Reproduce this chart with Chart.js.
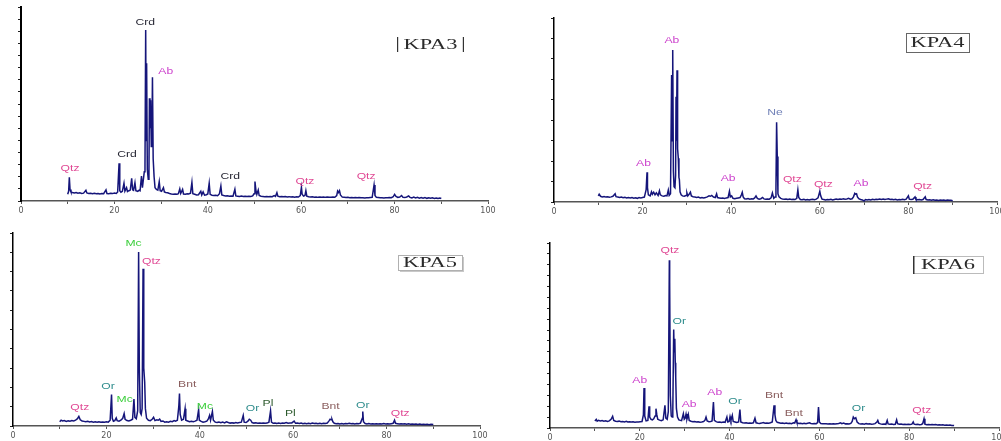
<!DOCTYPE html>
<html><head><meta charset="utf-8">
<script src="https://cdn.jsdelivr.net/npm/chart.js@4.4.0/dist/chart.umd.min.js"></script>
<style>
html,body{margin:0;padding:0;background:#fff;overflow:hidden;width:1001px;height:441px;position:relative;}
canvas{position:absolute;}
</style></head><body>
<script>
// ---------- DATA (2θ in degrees, intensity in counts) ----------
const xTickLabels = [0, 20, 40, 60, 80, 100];

const kpa3Data = [[10.0,55],[10.2,80],[10.35,195],[10.5,95],[10.7,75],[11.0,70],[11.4,66],[11.8,70],[12.2,64],[12.6,67],[13.0,62],[13.4,65],[13.9,88],[14.1,66],[14.5,62],[14.9,64],[15.3,60],[15.7,63],[16.1,59],[16.5,62],[16.9,58],[17.3,61],[17.7,60],[18.2,92],[18.4,62],[18.8,60],[19.2,64],[19.6,61],[20.0,65],[20.4,62],[20.7,75],[21.0,311],[21.15,85],[21.4,72],[21.7,80],[22.05,146],[22.25,82],[22.6,110],[22.8,78],[23.1,85],[23.4,90],[23.7,187],[23.9,92],[24.1,88],[24.4,150],[24.6,85],[25.0,80],[25.3,90],[25.5,85],[25.8,206],[26.0,110],[26.4,242],[26.55,300],[26.7,1411],[26.8,500],[26.9,1136],[27.05,260],[27.25,180],[27.4,250],[27.5,847],[27.62,600],[27.75,830],[27.9,450],[28.05,600],[28.15,1020],[28.3,350],[28.5,200],[28.7,110],[29.0,95],[29.3,90],[29.6,160],[29.8,85],[30.1,80],[30.5,110],[30.7,75],[31.0,70],[31.4,68],[31.8,62],[32.2,58],[32.6,55],[33.0,57],[33.4,55],[33.7,60],[34.0,100],[34.2,62],[34.6,95],[34.8,58],[35.2,56],[35.6,60],[35.9,58],[36.3,65],[36.6,154],[36.8,60],[37.2,55],[37.6,50],[38.0,52],[38.5,80],[38.7,50],[39.0,75],[39.3,48],[39.7,52],[40.0,58],[40.3,146],[40.5,55],[40.9,48],[41.3,45],[41.7,47],[42.1,44],[42.5,60],[42.8,124],[43.0,50],[43.4,45],[43.8,42],[44.2,44],[44.6,40],[45.0,42],[45.4,40],[45.8,97],[46.0,42],[46.4,40],[46.8,38],[47.2,41],[47.6,38],[48.0,40],[48.4,38],[48.8,40],[49.2,37],[49.6,42],[49.9,60],[50.1,160],[50.3,90],[50.5,55],[50.8,90],[51.0,45],[51.4,40],[51.8,38],[52.2,36],[52.6,38],[53.0,35],[53.4,37],[53.8,36],[54.2,45],[54.5,38],[54.8,68],[55.0,40],[55.4,36],[55.8,38],[56.2,35],[56.6,37],[57.0,34],[57.4,36],[57.8,33],[58.2,35],[58.6,32],[59.0,34],[59.4,33],[59.8,45],[60.05,113],[60.2,55],[60.5,40],[60.8,45],[61.0,85],[61.2,40],[61.6,35],[62.0,33],[62.4,34],[62.8,31],[63.2,33],[63.6,30],[64.0,32],[64.4,31],[64.8,33],[65.2,30],[65.6,32],[66.0,30],[66.4,31],[66.8,33],[67.2,31],[67.6,45],[67.8,82],[68.0,70],[68.2,85],[68.4,50],[68.8,32],[69.2,30],[69.6,28],[70.0,30],[70.4,27],[70.8,29],[71.2,27],[71.6,28],[72.0,26],[72.4,28],[72.8,26],[73.2,27],[73.6,25],[74.0,27],[74.4,26],[74.8,28],[75.2,30],[75.6,132],[75.8,45],[76.1,30],[76.5,28],[76.9,26],[77.3,27],[77.7,25],[78.1,27],[78.5,26],[78.9,28],[79.3,27],[79.7,35],[80.0,55],[80.3,38],[80.7,30],[81.1,32],[81.5,45],[81.8,30],[82.2,28],[82.6,33],[83.0,42],[83.3,30],[83.7,26],[84.1,32],[84.5,25],[84.9,30],[85.3,24],[85.7,29],[86.1,23],[86.5,28],[86.9,22],[87.3,27],[87.7,22],[88.1,26],[88.5,21],[88.9,25],[89.3,20],[89.7,24],[90.0,20]];
const kpa3Peaks = [['Qtz',10.5,264],['Crd',22.7,380],['Crd',26.6,1469],['Ab',31.0,1064],['Crd',44.8,206],['Qtz',60.8,157],['Qtz',73.9,206]];

const kpa4Data = [[10.0,30],[10.2,38],[10.5,28],[10.9,25],[11.3,27],[11.7,24],[12.1,26],[12.5,23],[12.9,25],[13.3,28],[13.8,40],[14.0,26],[14.4,24],[14.8,22],[15.2,24],[15.6,21],[16.0,23],[16.4,20],[16.8,22],[17.2,20],[17.6,22],[18.0,19],[18.4,21],[18.8,18],[19.2,22],[19.6,20],[20.0,22],[20.4,24],[20.8,60],[21.0,145],[21.1,70],[21.3,35],[21.7,30],[22.0,50],[22.2,38],[22.5,48],[22.8,35],[23.1,45],[23.5,32],[23.8,55],[24.0,35],[24.4,30],[24.8,28],[25.2,32],[25.5,30],[25.8,58],[26.0,32],[26.3,40],[26.55,621],[26.68,300],[26.8,743],[26.95,150],[27.1,75],[27.3,70],[27.45,130],[27.55,515],[27.65,300],[27.77,645],[27.9,260],[28.06,214],[28.2,120],[28.3,110],[28.45,50],[28.7,35],[29.0,30],[29.4,28],[29.8,32],[30.0,45],[30.2,30],[30.5,38],[30.8,48],[31.0,30],[31.4,26],[31.8,24],[32.2,22],[32.6,24],[33.0,20],[33.4,22],[33.8,20],[34.2,22],[34.6,25],[35.0,30],[35.3,28],[35.6,32],[36.0,24],[36.4,22],[36.7,40],[36.9,22],[37.3,20],[37.7,18],[38.1,19],[38.5,17],[38.9,20],[39.3,22],[39.6,52],[39.8,25],[40.1,30],[40.4,18],[40.8,16],[41.2,18],[41.6,20],[42.0,22],[42.3,35],[42.5,47],[42.7,25],[43.0,16],[43.4,15],[43.8,17],[44.2,14],[44.6,16],[45.0,15],[45.3,20],[45.6,30],[45.9,18],[46.3,14],[46.7,16],[47.1,22],[47.4,15],[47.8,13],[48.2,15],[48.6,14],[49.0,20],[49.3,44],[49.6,18],[49.9,25],[50.1,60],[50.25,390],[50.4,223],[50.55,40],[50.8,25],[51.2,18],[51.6,14],[52.0,13],[52.4,15],[52.8,12],[53.2,14],[53.6,12],[54.0,13],[54.4,12],[54.8,18],[55.05,59],[55.25,22],[55.6,12],[56.0,11],[56.4,13],[56.8,10],[57.2,12],[57.6,10],[58.0,12],[58.4,13],[58.8,11],[59.2,14],[59.6,20],[60.0,52],[60.2,30],[60.5,14],[60.9,12],[61.3,10],[61.7,12],[62.1,11],[62.5,13],[62.9,10],[63.3,12],[63.7,14],[64.1,12],[64.5,15],[64.9,13],[65.3,16],[65.7,14],[66.1,15],[66.5,18],[66.9,14],[67.3,16],[67.6,25],[67.9,42],[68.1,38],[68.3,40],[68.5,25],[68.8,16],[69.2,12],[69.6,10],[70.0,5],[70.3,12],[70.7,10],[71.1,12],[71.5,10],[71.9,13],[72.3,11],[72.7,13],[73.1,12],[73.5,14],[73.9,12],[74.3,15],[74.7,12],[75.1,14],[75.5,16],[75.9,12],[76.3,13],[76.7,11],[77.1,13],[77.5,10],[77.9,12],[78.3,11],[78.7,13],[79.1,11],[79.5,14],[80.0,30],[80.2,14],[80.6,12],[81.0,13],[81.5,25],[81.7,13],[82.1,11],[82.5,12],[82.9,10],[83.3,12],[83.8,25],[84.0,12],[84.4,10],[84.8,11],[85.2,9],[85.6,11],[86.0,9],[86.4,10],[86.8,8],[87.2,10],[87.6,9],[88.0,10],[88.4,8],[88.8,10],[89.2,9],[89.6,8],[90.0,6]];
const kpa4Peaks = [['Ab',26.6,792],['Ab',20.2,186],['Ab',39.3,116],['Ne',49.9,439],['Qtz',53.8,111],['Qtz',60.8,86],['Ab',69.3,91],['Qtz',83.2,75]];

const kpa5Data = [[10.0,22],[10.3,30],[10.6,26],[11.0,28],[11.4,24],[11.8,27],[12.2,25],[12.6,28],[13.0,26],[13.4,30],[13.8,38],[14.1,50],[14.4,32],[14.8,26],[15.2,24],[15.6,22],[16.0,24],[16.4,21],[16.8,23],[17.2,20],[17.6,22],[18.0,20],[18.4,22],[18.8,19],[19.2,21],[19.6,20],[20.0,22],[20.4,20],[20.8,30],[21.1,163],[21.25,40],[21.5,25],[21.8,28],[22.1,42],[22.3,28],[22.7,25],[23.1,30],[23.5,40],[23.8,64],[24.0,35],[24.4,28],[24.8,26],[25.2,30],[25.6,35],[25.9,140],[26.1,45],[26.4,38],[26.7,80],[26.9,901],[27.05,300],[27.25,70],[27.45,60],[27.65,90],[27.85,815],[27.95,573],[28.05,300],[28.2,228],[28.35,90],[28.6,40],[29.0,30],[29.4,28],[29.8,35],[30.1,45],[30.4,28],[30.8,32],[31.1,30],[31.4,36],[31.7,24],[32.1,26],[32.5,20],[32.9,22],[33.3,20],[33.7,24],[34.1,22],[34.5,28],[34.8,25],[35.2,30],[35.5,100],[35.65,168],[35.8,60],[36.1,30],[36.5,35],[36.85,90],[37.0,30],[37.4,26],[37.8,22],[38.2,24],[38.6,22],[39.0,25],[39.4,30],[39.75,85],[39.9,30],[40.3,24],[40.7,20],[41.1,22],[41.5,25],[41.8,35],[42.1,55],[42.3,30],[42.7,75],[42.9,30],[43.3,20],[43.7,18],[44.1,20],[44.5,17],[44.9,20],[45.3,16],[45.7,22],[46.1,18],[46.5,15],[46.9,17],[47.3,15],[47.7,18],[48.1,16],[48.5,18],[48.9,20],[49.3,55],[49.5,20],[49.9,18],[50.3,25],[50.6,35],[50.9,30],[51.2,18],[51.6,15],[52.0,17],[52.4,14],[52.8,16],[53.2,14],[53.6,16],[54.0,14],[54.4,15],[54.8,20],[55.15,78],[55.35,20],[55.7,14],[56.1,16],[56.5,13],[56.9,15],[57.3,13],[57.7,16],[58.1,14],[58.5,18],[58.9,14],[59.3,15],[59.7,16],[60.2,25],[60.5,14],[60.9,15],[61.3,13],[61.7,15],[62.1,12],[62.5,14],[62.9,12],[63.3,14],[63.7,12],[64.1,15],[64.5,13],[64.9,14],[65.3,12],[65.7,14],[66.1,12],[66.5,14],[66.9,13],[67.3,15],[67.7,28],[67.9,35],[68.1,33],[68.3,35],[68.5,22],[68.8,14],[69.2,12],[69.6,13],[70.0,11],[70.4,13],[70.8,11],[71.2,13],[71.6,12],[72.0,14],[72.4,12],[72.8,13],[73.2,11],[73.6,13],[74.0,12],[74.4,15],[74.8,40],[74.9,75],[75.05,22],[75.4,13],[75.8,11],[76.2,13],[76.6,11],[77.0,12],[77.4,10],[77.8,12],[78.2,10],[78.6,12],[79.0,11],[79.4,13],[79.8,11],[80.2,12],[80.6,10],[81.0,12],[81.4,14],[81.7,30],[81.9,14],[82.3,12],[82.7,10],[83.1,12],[83.5,10],[83.9,11],[84.3,9],[84.7,11],[85.1,9],[85.5,10],[85.9,9],[86.3,10],[86.7,8],[87.1,10],[87.5,8],[87.9,9],[88.3,8],[88.7,9],[89.1,7],[89.5,9],[90.0,8]];
const kpa5Peaks = [['Mc',25.8,948],['Qtz',29.65,853],['Or',20.35,206],['Mc',23.9,137],['Qtz',14.3,98],['Bnt',37.3,214],['Mc',41.1,102],['Or',51.3,93],['Pl',54.6,116],['Pl',59.4,67],['Bnt',68.0,102],['Or',74.9,107],['Qtz',82.9,64]];

const kpa6Data = [[10.0,65],[10.3,80],[10.5,62],[10.8,70],[11.2,64],[11.6,68],[12.0,62],[12.4,66],[12.8,60],[13.2,65],[13.6,80],[13.95,107],[14.2,70],[14.6,62],[15.0,60],[15.4,63],[15.8,58],[16.2,60],[16.6,56],[17.0,62],[17.3,55],[17.7,58],[18.1,55],[18.5,57],[18.9,54],[19.3,56],[19.7,55],[20.1,58],[20.5,60],[20.8,120],[20.94,368],[21.1,110],[21.4,65],[21.8,70],[22.05,199],[22.2,100],[22.5,80],[22.8,75],[23.1,85],[23.4,110],[23.6,178],[23.8,120],[24.0,80],[24.4,72],[24.8,68],[25.2,75],[25.6,208],[25.8,90],[26.1,80],[26.35,150],[26.58,1541],[26.65,1342],[26.8,300],[27.0,110],[27.2,101],[27.35,150],[27.55,904],[27.65,700],[27.8,821],[27.9,600],[28.0,469],[28.15,180],[28.4,100],[28.7,75],[29.0,70],[29.3,68],[29.7,132],[29.9,80],[30.1,90],[30.3,128],[30.5,80],[30.8,125],[31.0,70],[31.4,62],[31.8,58],[32.2,60],[32.6,55],[33.0,58],[33.4,54],[33.8,56],[34.2,60],[34.5,70],[34.75,101],[35.0,65],[35.4,58],[35.8,60],[36.1,65],[36.4,239],[36.6,70],[37.0,58],[37.4,52],[37.8,55],[38.2,50],[38.6,54],[39.0,52],[39.4,101],[39.6,55],[39.9,60],[40.1,105],[40.3,70],[40.6,115],[40.8,60],[41.2,55],[41.6,50],[42.0,55],[42.3,169],[42.5,55],[42.9,48],[43.3,45],[43.7,48],[44.1,44],[44.5,46],[44.9,43],[45.3,48],[45.65,90],[45.9,48],[46.3,44],[46.7,42],[47.1,45],[47.5,50],[47.9,44],[48.3,46],[48.7,43],[49.1,48],[49.5,55],[49.9,209],[50.1,120],[50.3,70],[50.6,52],[51.0,48],[51.4,44],[51.8,46],[52.2,42],[52.6,45],[53.0,41],[53.4,44],[53.8,40],[54.2,48],[54.5,45],[54.8,75],[55.0,48],[55.4,42],[55.8,44],[56.2,40],[56.6,43],[57.0,40],[57.4,44],[57.8,48],[58.1,42],[58.5,40],[58.9,42],[59.3,40],[59.6,50],[59.8,193],[60.0,55],[60.3,42],[60.7,40],[61.1,38],[61.5,40],[61.9,37],[62.3,39],[62.7,36],[63.1,38],[63.5,36],[63.9,39],[64.3,42],[64.7,48],[65.0,40],[65.4,45],[65.8,38],[66.2,40],[66.6,37],[67.0,42],[67.3,60],[67.55,100],[67.8,85],[68.1,95],[68.4,55],[68.8,40],[69.2,36],[69.6,38],[70.0,35],[70.4,40],[70.8,36],[71.2,38],[71.6,35],[72.0,37],[72.4,40],[72.8,55],[73.0,70],[73.2,45],[73.6,38],[74.0,35],[74.4,37],[74.8,34],[75.1,70],[75.3,38],[75.7,34],[76.1,36],[76.5,33],[76.9,35],[77.2,75],[77.4,40],[77.8,34],[78.2,36],[78.6,33],[79.0,35],[79.4,32],[79.8,34],[80.2,32],[80.6,35],[80.9,55],[81.1,35],[81.5,32],[81.9,34],[82.3,31],[82.7,33],[83.0,40],[83.3,85],[83.5,35],[83.9,31],[84.3,33],[84.7,30],[85.1,32],[85.5,29],[85.9,31],[86.3,28],[86.7,30],[87.1,27],[87.5,29],[87.9,26],[88.3,28],[88.7,25],[89.1,27],[89.5,24],[90.0,22]];
const kpa6Peaks = [['Qtz',26.7,1627],['Or',28.8,983],['Ab',20.0,438],['Ab',31.0,218],['Ab',36.7,322],['Or',41.2,245],['Bnt',49.9,294],['Bnt',54.3,132],['Or',68.7,178],['Qtz',82.8,163]];

const sampleNames = ['KPA3', 'KPA4', 'KPA5', 'KPA6'];
const yMaxima = [1600, 900, 1000, 1700];

// ---------- STYLE / LAYOUT ----------
const mineralColors = {Qtz:'#e04894', Ab:'#cc40cc', Crd:'#262633', Ne:'#7282b8', Mc:'#3ccf3c', Or:'#2e8c8c', Pl:'#2d5a2d', Bnt:'#8a5e5e'};
const panels = [
  {data:kpa3Data, peaks:kpa3Peaks, x0:21,  x100:488, top:7,   bottom:201, yBorder:2,   box:{x:397,y:37,w:67,h:15,style:'bars'}},
  {data:kpa4Data, peaks:kpa4Peaks, x0:554, x100:997, top:18,  bottom:202, yBorder:1.5, box:{x:906,y:33,w:63,h:19,style:'rect'}},
  {data:kpa5Data, peaks:kpa5Peaks, x0:13,  x100:480, top:233, bottom:426, yBorder:1.5, box:{x:398,y:255,w:64,h:15,style:'shadow'}},
  {data:kpa6Data, peaks:kpa6Peaks, x0:550, x100:999, top:243, bottom:428, yBorder:1.5, box:{x:913,y:256,w:70,h:17,style:'leftbar'}}
];

function makePlugin(p, name, offL, offT) {
  return {
    id: 'ann' + name,
    afterDraw(chart) {
      const ctx = chart.ctx, xs = chart.scales.x, ys = chart.scales.y;
      ctx.save();
      ctx.font = '9px "Liberation Sans", Arial, sans-serif';
      ctx.textAlign = 'center';
      ctx.textBaseline = 'middle';
      p.peaks.forEach(([t, x, y]) => {
        ctx.fillStyle = mineralColors[t];
        ctx.save();
        ctx.translate(xs.getPixelForValue(x), ys.getPixelForValue(y));
        ctx.scale(1.35, 1);
        ctx.fillText(t, 0, 0);
        ctx.restore();
      });
      // sample name box
      const b = p.box, bx = b.x - offL, by = b.y - offT;
      if (b.style === 'bars') {
        ctx.fillStyle = '#333';
        ctx.fillRect(bx, by, 1.2, b.h);
        ctx.fillRect(bx + b.w - 1.2, by, 1.2, b.h);
      } else if (b.style === 'rect') {
        ctx.strokeStyle = '#666'; ctx.lineWidth = 1;
        ctx.strokeRect(bx + 0.5, by + 0.5, b.w, b.h);
      } else if (b.style === 'shadow') {
        ctx.fillStyle = '#c8c8c8';
        ctx.fillRect(bx + 2, by + 2, b.w, b.h);
        ctx.fillStyle = '#fff';
        ctx.fillRect(bx, by, b.w, b.h);
        ctx.strokeStyle = '#b0b0b0'; ctx.lineWidth = 1;
        ctx.strokeRect(bx + 0.5, by + 0.5, b.w, b.h);
      } else {
        ctx.strokeStyle = '#bbb'; ctx.lineWidth = 1;
        ctx.strokeRect(bx + 0.5, by + 0.5, b.w, b.h);
        ctx.fillStyle = '#333';
        ctx.fillRect(bx, by, 1.5, b.h + 1);
      }
      ctx.fillStyle = '#2a2a2a';
      ctx.font = '14px "Liberation Serif", "Times New Roman", serif';
      ctx.save();
      ctx.translate(bx + b.w / 2, by + b.h / 2 + 1);
      ctx.scale(1.6, 1);
      ctx.fillText(name, 0, 0);
      ctx.restore();
      ctx.restore();
    }
  };
}

panels.forEach((p, i) => {
  const padL = 12, padT = 8, padR = 30, axisH = 22;
  const left = p.x0 - padL, top = p.top - padT;
  const w = (p.x100 - p.x0) + padL + padR;
  const h = (p.bottom - p.top) + padT + axisH;
  const c = document.createElement('canvas');
  c.width = w; c.height = h;
  c.style.left = left + 'px'; c.style.top = top + 'px';
  c.style.width = w + 'px'; c.style.height = h + 'px';
  document.body.appendChild(c);
  new Chart(c, {
    type: 'line',
    data: {datasets: [{
      label: sampleNames[i],
      data: p.data.map(([x, y]) => ({x, y})),
      borderColor: '#15157a', borderWidth: 1.5, pointRadius: 0, tension: 0, fill: false
    }]},
    options: {
      responsive: false, animation: false, events: [],
      layout: {padding: {left: 0, top: padT, right: padR, bottom: 0}},
      plugins: {legend: {display: false}, tooltip: {enabled: false}},
      scales: {
        x: {
          type: 'linear', min: 0, max: 100,
          ticks: {stepSize: 10, autoSkip: false, maxRotation: 0, padding: 2, color: '#555',
                  font: {size: 8, family: '"DejaVu Sans", Arial, sans-serif'},
                  callback: v => xTickLabels.includes(v) ? String(v) : ''},
          grid: {drawOnChartArea: false, drawTicks: true, tickLength: 3, tickColor: '#555', tickWidth: 1},
          border: {color: '#555', width: 1.5},
          afterFit(s) { s.height = axisH; s.paddingLeft = 0; s.paddingRight = 0; }
        },
        y: {
          min: 0, max: yMaxima[i],
          ticks: {display: false, stepSize: 100},
          grid: {drawOnChartArea: false, drawTicks: true, tickLength: 3, tickColor: '#222', tickWidth: 1},
          border: {color: '#000', width: p.yBorder},
          afterFit(s) { s.width = padL; }
        }
      }
    },
    plugins: [makePlugin(p, sampleNames[i], left, top)]
  });
});
</script>
</body></html>
